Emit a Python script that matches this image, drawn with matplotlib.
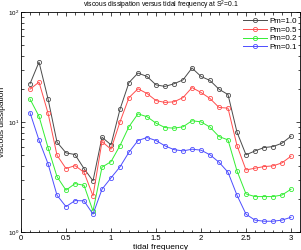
import numpy as np
import matplotlib
matplotlib.use("Agg")
import matplotlib.pyplot as plt
from matplotlib.ticker import LogLocator, MultipleLocator, NullFormatter

plt.rcParams["font.family"] = ["Liberation Sans", "DejaVu Sans"]
plt.rcParams["mathtext.fontset"] = "custom"
plt.rcParams["mathtext.rm"] = "Liberation Sans"
plt.rcParams["mathtext.it"] = "Liberation Sans:italic"

freq = [0.1, 0.2, 0.3, 0.4, 0.5, 0.6, 0.7, 0.8, 0.9, 1.0,
        1.1, 1.2, 1.3, 1.4, 1.5, 1.6, 1.7, 1.8, 1.9, 2.0,
        2.1, 2.2, 2.3, 2.4, 2.5, 2.6, 2.7, 2.8, 2.9, 3.0]

pm_1_0 = [22.3, 35.1, 16.3, 6.58, 5.26, 5.08, 3.79, 2.93, 7.3, 6.22,
          13.1, 22.9, 27.9, 26.0, 21.8, 21.1, 22.3, 24.2, 31.0, 26.0,
          23.9, 19.9, 17.8, 8.11, 5.05, 5.48, 5.88, 6.0, 6.44, 7.46]
pm_0_5 = [19.9, 23.1, 12.1, 5.01, 3.79, 4.03, 3.51, 2.14, 6.66, 5.68,
          10.06, 16.7, 20.1, 18.2, 15.7, 15.1, 15.3, 16.7, 20.6, 18.6,
          16.4, 13.6, 13.4, 6.13, 3.68, 3.82, 3.95, 4.01, 4.27, 4.91]
pm_0_2 = [16.2, 11.3, 5.88, 3.2, 2.41, 2.77, 2.67, 1.56, 3.9, 4.38,
          6.13, 9.12, 11.9, 11.2, 9.8, 8.93, 8.82, 9.07, 10.3, 10.06,
          9.01, 7.4, 6.9, 3.61, 2.23, 2.11, 2.11, 2.11, 2.18, 2.46]
pm_0_1 = [12.2, 6.86, 4.2, 2.17, 1.71, 1.94, 1.93, 1.46, 2.46, 3.12,
          3.93, 5.34, 6.81, 7.25, 6.81, 6.09, 5.63, 5.48, 5.68, 5.57,
          5.05, 4.33, 3.51, 2.17, 1.46, 1.29, 1.26, 1.26, 1.29, 1.37]

series = [("Pm=1.0", pm_1_0, "#4a4a4a"),
          ("Pm=0.5", pm_0_5, "#ff4d4d"),
          ("Pm=0.2", pm_0_2, "#33ee33"),
          ("Pm=0.1", pm_0_1, "#4d4dff")]

fig = plt.figure(figsize=(3.01, 2.5), dpi=100)
ax = fig.add_axes([21 / 301, 1 - 232.3 / 250, 279 / 301, 220.3 / 250])

for label, vals, color in series:
    ax.plot(freq, vals, color=color, lw=0.7, marker="o", ms=3,
            mfc="none", mew=0.6, label=label)

ax.set_yscale("log")
ax.set_xlim(0, 3.1)
ax.set_ylim(1, 100)
ax.xaxis.set_major_locator(MultipleLocator(0.5))
ax.xaxis.set_minor_locator(MultipleLocator(0.1))
ax.xaxis.set_major_formatter(plt.FuncFormatter(lambda v, p: f"{v:g}"))
ax.yaxis.set_minor_locator(LogLocator(base=10, subs=np.arange(2, 10)))
ax.yaxis.set_minor_formatter(NullFormatter())
ax.tick_params(which="both", direction="in", top=True, right=True,
               width=0.5, pad=2)
ax.tick_params(axis="x", labelsize=5.5)
ax.tick_params(axis="y", labelsize=4.5, pad=1.5)
ax.tick_params(which="major", length=3)
ax.tick_params(which="minor", length=1.8)
for s in ax.spines.values():
    s.set_linewidth(0.6)

ax.set_title("viscous dissipation versus tidal frequency at S$^2$=0.1",
             fontsize=4.9, pad=3)
ax.set_xlabel("tidal frequency", fontsize=6, labelpad=1.5)
ax.set_ylabel("viscous dissipation", fontsize=6)
ax.yaxis.set_label_coords(-0.052, 0.5)

ax.legend(loc="upper left", bbox_to_anchor=((239 - 21) / 279, 0.995),
          fontsize=5.8, frameon=False, handlelength=3.0,
          borderaxespad=0.0, borderpad=0.5, labelspacing=0.15,
          handletextpad=0.3)

fig.savefig("out.png", dpi=100)
